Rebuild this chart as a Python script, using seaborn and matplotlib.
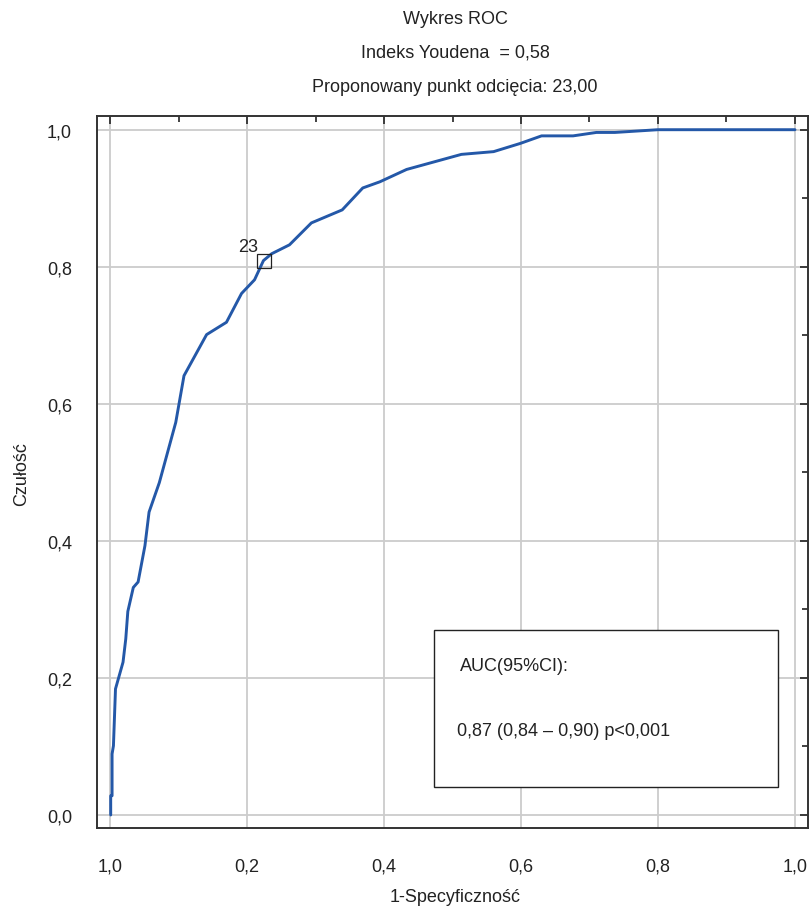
import numpy as np
import pandas as pd
import matplotlib
matplotlib.use("Agg")
import matplotlib.pyplot as plt
from matplotlib.patches import Rectangle
import seaborn as sns

sns.set_style("white")
plt.rcParams["font.family"] = ["Liberation Sans", "DejaVu Sans"]

# ROC curve
fpr = [0.001, 0.001, 0.003, 0.003, 0.005, 0.008, 0.019, 0.023, 0.026, 0.034, 0.041,
       0.051, 0.057, 0.072, 0.096, 0.102, 0.108, 0.141, 0.170, 0.192, 0.211, 0.224,
       0.236, 0.262, 0.294, 0.339, 0.369, 0.394, 0.433, 0.513, 0.560, 0.599, 0.630,
       0.676, 0.710, 0.737, 0.800, 1.000]
tpr = [0.000, 0.028, 0.028, 0.089, 0.101, 0.184, 0.223, 0.257, 0.297, 0.332, 0.340,
       0.393, 0.442, 0.485, 0.573, 0.607, 0.641, 0.701, 0.719, 0.761, 0.781, 0.809,
       0.819, 0.832, 0.864, 0.883, 0.915, 0.924, 0.942, 0.964, 0.968, 0.980, 0.991,
       0.991, 0.996, 0.996, 1.000, 1.000]
cut_x, cut_y, cut_label = 0.225, 0.809, "23"
ticks = [0.0, 0.2, 0.4, 0.6, 0.8, 1.0]
xticklabels = ["1,0", "0,2", "0,4", "0,6", "0,8", "1,0"]
yticklabels = ["0,0", "0,2", "0,4", "0,6", "0,8", "1,0"]
titles = ["Wykres ROC", "Indeks Youdena  = 0,58", "Proponowany punkt odcięcia: 23,00"]
auc_head = "AUC(95%CI):"
auc_text = "0,87 (0,84 – 0,90) p<0,001"

df = pd.DataFrame({"fpr": fpr, "tpr": tpr})

fig = plt.figure(figsize=(8.09, 9.12), dpi=100)
ax = fig.add_axes([97 / 809, 1 - 829 / 912, 711 / 809, 712 / 912])

sns.lineplot(data=df, x="fpr", y="tpr", sort=False, estimator=None, ax=ax,
             color="#2458a8", lw=2.1, zorder=3)
ax.plot([cut_x], [cut_y], marker="s", ms=10, mfc="none", mec="#222222", mew=0.9, zorder=4)
ax.text(cut_x - 0.009, cut_y + 0.02, cut_label, ha="right", va="center", fontsize=13, color="#222222")

ax.add_patch(Rectangle((0.473, 0.041), 0.502, 0.229, facecolor="white",
                       edgecolor="#222222", lw=1.0, zorder=5))
ax.text(0.511, 0.2175, auc_head, ha="left", va="center", fontsize=13, color="#222222", zorder=6)
ax.text(0.507, 0.124, auc_text, ha="left", va="center", fontsize=13, color="#222222", zorder=6)

ax.set_xlim(-0.019, 1.019)
ax.set_ylim(-0.019, 1.020)
ax.set_xticks(ticks); ax.set_xticklabels(xticklabels)
ax.set_yticks(ticks); ax.set_yticklabels(yticklabels)
ax.set_xticks(np.arange(0.1, 1.0, 0.2), minor=True)
ax.set_yticks(np.arange(0.1, 1.0, 0.2), minor=True)
ax.tick_params(which="both", direction="in", top=True, right=True, color="#222222", width=1.2)
ax.tick_params(which="major", length=6)
ax.tick_params(which="minor", length=4)
ax.tick_params(axis="x", which="major", pad=21, labelsize=13, labelcolor="#222222")
ax.tick_params(axis="y", which="major", pad=18, labelsize=13, labelcolor="#222222")
ax.grid(True, which="major", color="#cccccc", lw=1.3)
for s in ax.spines.values():
    s.set_color("#333333"); s.set_linewidth(1.4)

ax.set_xlabel("")
ax.set_ylabel("")
fig.text(455 / 809, 1 - 898 / 912, "1-Specyficzność", ha="center", va="center", fontsize=13, color="#222222")
fig.text(22 / 809, 1 - 474 / 912, "Czułość", ha="center", va="center", rotation=90, fontsize=13, color="#222222")
for t, yp in zip(titles, [20, 53, 88]):
    fig.text(455 / 809, 1 - yp / 912, t, ha="center", va="center", fontsize=13, color="#222222")

fig.savefig("out.png", dpi=100)
